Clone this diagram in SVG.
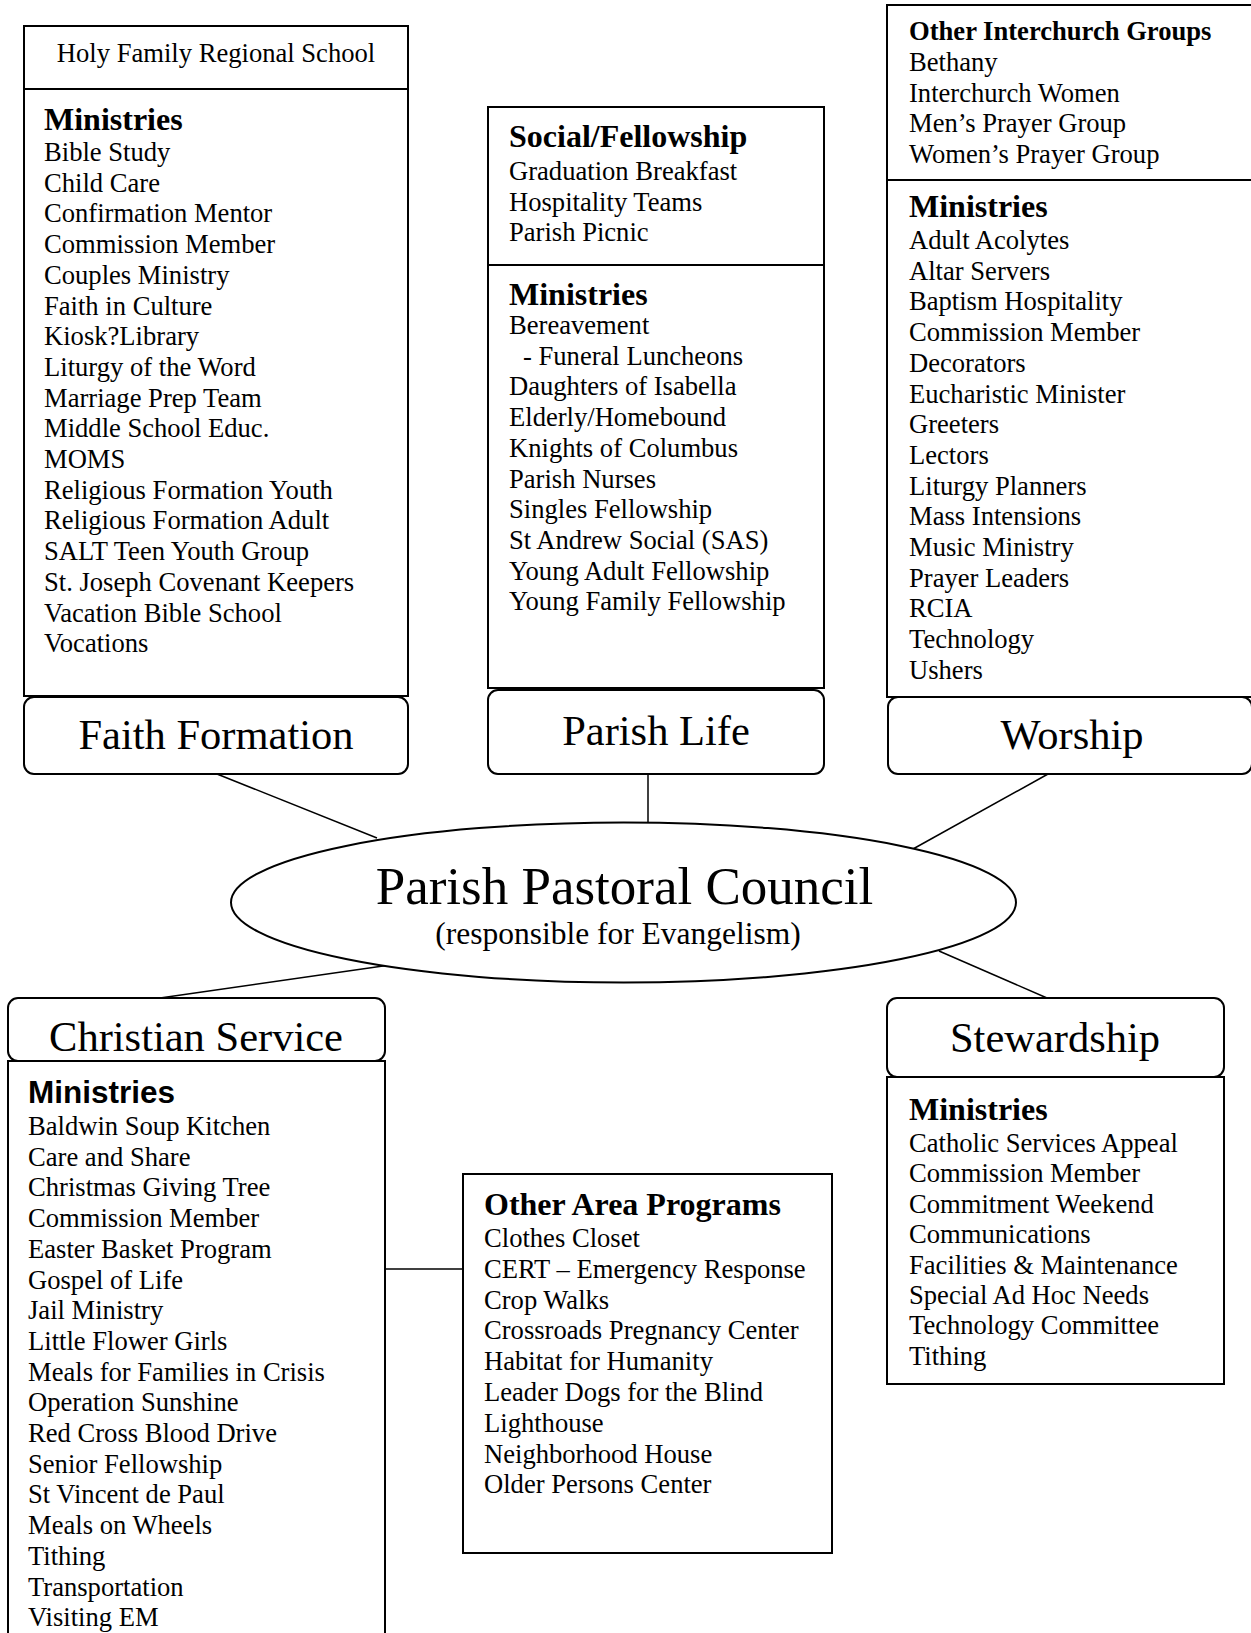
<svg xmlns="http://www.w3.org/2000/svg" width="1251" height="1633" viewBox="0 0 1251 1633">
<style>
.box{fill:#fff;stroke:#000;stroke-width:2}
.lbl{fill:#fff;stroke:#000;stroke-width:2}
.div{stroke:#000;stroke-width:2}
.con{stroke:#000;stroke-width:1.5;fill:none}
text{font-family:"Liberation Serif","Times New Roman",serif;fill:#000}
.it{font-size:26.6px}
.hd{font-size:32px;font-weight:bold}
.hs{font-size:26.6px;font-weight:bold}
.hsans{font-family:"Liberation Sans",Arial,sans-serif;font-size:31.5px;font-weight:bold}
.big{font-size:42.5px;text-anchor:middle}
</style>
<rect width="1251" height="1633" fill="#fff"/>
<g id="connectors">
<line class="con" x1="217" y1="774" x2="377" y2="838"/>
<line class="con" x1="648" y1="774" x2="648" y2="822"/>
<line class="con" x1="1048" y1="774" x2="904" y2="854"/>
<line class="con" x1="390" y1="965" x2="160" y2="998"/>
<line class="con" x1="939" y1="951" x2="1047" y2="998"/>
<line class="con" x1="385" y1="1269" x2="463" y2="1269"/>
</g>
<g id="faith-formation-list">
<rect class="box" x="24" y="26" width="384" height="670"/>
<line class="div" x1="24" y1="89" x2="408" y2="89"/>
<text class="it" x="216" y="62" text-anchor="middle">Holy Family Regional School</text>
<text class="hd" x="44" y="130">Ministries</text>
<text class="it" x="44" y="161"><tspan x="44" dy="0">Bible Study</tspan><tspan x="44" dy="30.7">Child Care</tspan><tspan x="44" dy="30.7">Confirmation Mentor</tspan><tspan x="44" dy="30.7">Commission Member</tspan><tspan x="44" dy="30.7">Couples Ministry</tspan><tspan x="44" dy="30.7">Faith in Culture</tspan><tspan x="44" dy="30.7">Kiosk?Library</tspan><tspan x="44" dy="30.7">Liturgy of the Word</tspan><tspan x="44" dy="30.7">Marriage Prep Team</tspan><tspan x="44" dy="30.7">Middle School Educ.</tspan><tspan x="44" dy="30.7">MOMS</tspan><tspan x="44" dy="30.7">Religious Formation Youth</tspan><tspan x="44" dy="30.7">Religious Formation Adult</tspan><tspan x="44" dy="30.7">SALT Teen Youth Group</tspan><tspan x="44" dy="30.7">St. Joseph Covenant Keepers</tspan><tspan x="44" dy="30.7">Vacation Bible School</tspan><tspan x="44" dy="30.7">Vocations</tspan></text>
</g>
<g id="faith-formation">
<rect class="lbl" x="24" y="697" width="384" height="77" rx="10"/>
<text class="big" x="216" y="749">Faith Formation</text>
</g>
<g id="parish-life-list">
<rect class="box" x="488" y="107" width="336" height="581"/>
<line class="div" x1="488" y1="265" x2="824" y2="265"/>
<text class="hd" x="509" y="147">Social/Fellowship</text>
<text class="it" x="509" y="180"><tspan x="509" dy="0">Graduation Breakfast</tspan><tspan x="509" dy="30.7">Hospitality Teams</tspan><tspan x="509" dy="30.7">Parish Picnic</tspan></text>
<text class="hd" x="509" y="305">Ministries</text>
<text class="it" x="509" y="334"><tspan x="509" dy="0">Bereavement</tspan><tspan x="523" dy="30.7">- Funeral Luncheons</tspan><tspan x="509" dy="30.7">Daughters of Isabella</tspan><tspan x="509" dy="30.7">Elderly/Homebound</tspan><tspan x="509" dy="30.7">Knights of Columbus</tspan><tspan x="509" dy="30.7">Parish Nurses</tspan><tspan x="509" dy="30.7">Singles Fellowship</tspan><tspan x="509" dy="30.7">St Andrew Social (SAS)</tspan><tspan x="509" dy="30.7">Young Adult Fellowship</tspan><tspan x="509" dy="30.7">Young Family Fellowship</tspan></text>
</g>
<g id="parish-life">
<rect class="lbl" x="488" y="690" width="336" height="84" rx="10"/>
<text class="big" x="656" y="745">Parish Life</text>
</g>
<g id="worship-list">
<rect class="box" x="887" y="5" width="372" height="692"/>
<line class="div" x1="887" y1="180" x2="1251" y2="180"/>
<text class="hs" x="909" y="40">Other Interchurch Groups</text>
<text class="it" x="909" y="71"><tspan x="909" dy="0">Bethany</tspan><tspan x="909" dy="30.6">Interchurch Women</tspan><tspan x="909" dy="30.6">Men’s Prayer Group</tspan><tspan x="909" dy="30.6">Women’s Prayer Group</tspan></text>
<text class="hd" x="909" y="217">Ministries</text>
<text class="it" x="909" y="249"><tspan x="909" dy="0">Adult Acolytes</tspan><tspan x="909" dy="30.7">Altar Servers</tspan><tspan x="909" dy="30.7">Baptism Hospitality</tspan><tspan x="909" dy="30.7">Commission Member</tspan><tspan x="909" dy="30.7">Decorators</tspan><tspan x="909" dy="30.7">Eucharistic Minister</tspan><tspan x="909" dy="30.7">Greeters</tspan><tspan x="909" dy="30.7">Lectors</tspan><tspan x="909" dy="30.7">Liturgy Planners</tspan><tspan x="909" dy="30.7">Mass Intensions</tspan><tspan x="909" dy="30.7">Music Ministry</tspan><tspan x="909" dy="30.7">Prayer Leaders</tspan><tspan x="909" dy="30.7">RCIA</tspan><tspan x="909" dy="30.7">Technology</tspan><tspan x="909" dy="30.7">Ushers</tspan></text>
</g>
<g id="worship">
<rect class="lbl" x="888" y="697" width="364" height="77" rx="10"/>
<text class="big" x="1072" y="749">Worship</text>
</g>
<g id="council">
<ellipse class="box" cx="623.5" cy="902.5" rx="392.5" ry="80"/>
<text x="624.5" y="904" font-size="53" text-anchor="middle">Parish Pastoral Council</text>
<text x="618" y="944" font-size="31.5" text-anchor="middle">(responsible for Evangelism)</text>
</g>
<g id="christian-service">
<rect class="lbl" x="8" y="998" width="377" height="63" rx="10"/>
<text class="big" x="196" y="1051">Christian Service</text>
</g>
<g id="christian-service-list">
<rect class="box" x="8" y="1061" width="377" height="600"/>
<text class="hsans" x="28" y="1103">Ministries</text>
<text class="it" x="28" y="1135"><tspan x="28" dy="0">Baldwin Soup Kitchen</tspan><tspan x="28" dy="30.7">Care and Share</tspan><tspan x="28" dy="30.7">Christmas Giving Tree</tspan><tspan x="28" dy="30.7">Commission Member</tspan><tspan x="28" dy="30.7">Easter Basket Program</tspan><tspan x="28" dy="30.7">Gospel of Life</tspan><tspan x="28" dy="30.7">Jail Ministry</tspan><tspan x="28" dy="30.7">Little Flower Girls</tspan><tspan x="28" dy="30.7">Meals for Families in Crisis</tspan><tspan x="28" dy="30.7">Operation Sunshine</tspan><tspan x="28" dy="30.7">Red Cross Blood Drive</tspan><tspan x="28" dy="30.7">Senior Fellowship</tspan><tspan x="28" dy="30.7">St Vincent de Paul</tspan><tspan x="28" dy="30.7">Meals on Wheels</tspan><tspan x="28" dy="30.7">Tithing</tspan><tspan x="28" dy="30.7">Transportation</tspan><tspan x="28" dy="30.7">Visiting EM</tspan></text>
</g>
<g id="other-area-programs">
<rect class="box" x="463" y="1174" width="369" height="379"/>
<text class="hd" x="484" y="1215">Other Area Programs</text>
<text class="it" x="484" y="1247"><tspan x="484" dy="0">Clothes Closet</tspan><tspan x="484" dy="30.8">CERT – Emergency Response</tspan><tspan x="484" dy="30.8">Crop Walks</tspan><tspan x="484" dy="30.8">Crossroads Pregnancy Center</tspan><tspan x="484" dy="30.8">Habitat for Humanity</tspan><tspan x="484" dy="30.8">Leader Dogs for the Blind</tspan><tspan x="484" dy="30.8">Lighthouse</tspan><tspan x="484" dy="30.8">Neighborhood House</tspan><tspan x="484" dy="30.8">Older Persons Center</tspan></text>
</g>
<g id="stewardship">
<rect class="lbl" x="887" y="998" width="337" height="79" rx="10"/>
<text class="big" x="1055" y="1052">Stewardship</text>
</g>
<g id="stewardship-list">
<rect class="box" x="887" y="1077" width="337" height="307"/>
<text class="hd" x="909" y="1120">Ministries</text>
<text class="it" x="909" y="1152"><tspan x="909" dy="0">Catholic Services Appeal</tspan><tspan x="909" dy="30.4">Commission Member</tspan><tspan x="909" dy="30.4">Commitment Weekend</tspan><tspan x="909" dy="30.4">Communications</tspan><tspan x="909" dy="30.4">Facilities &amp; Maintenance</tspan><tspan x="909" dy="30.4">Special Ad Hoc Needs</tspan><tspan x="909" dy="30.4">Technology Committee</tspan><tspan x="909" dy="30.4">Tithing</tspan></text>
</g>
</svg>
